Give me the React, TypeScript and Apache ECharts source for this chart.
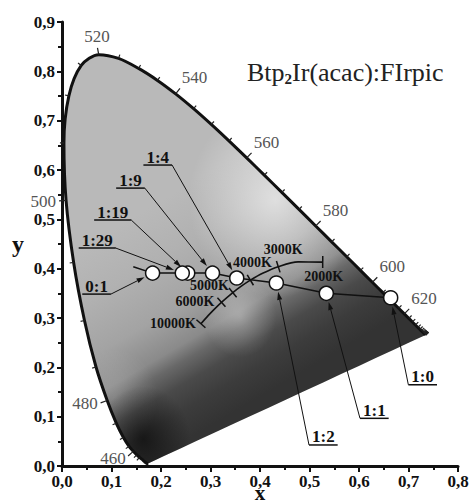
import React, { useEffect, useRef } from "react";
import * as echarts from "echarts";

// CIE 1931 spectral locus (5 nm steps)
const locusNm = [380, 385, 390, 395, 400, 405, 410, 415, 420, 425, 430, 435, 440, 445, 450, 455, 460, 465, 470, 475, 480, 485, 490, 495, 500, 505, 510, 515, 520, 525, 530, 535, 540, 545, 550, 555, 560, 565, 570, 575, 580, 585, 590, 595, 600, 605, 610, 615, 620, 625, 630, 635, 640, 645, 650, 655, 660, 665, 670, 675, 680, 685, 690, 695, 700];
const locusX = [0.1741, 0.174, 0.1738, 0.1736, 0.1733, 0.173, 0.1726, 0.1721, 0.1714, 0.1703, 0.1689, 0.1669, 0.1644, 0.1611, 0.1566, 0.151, 0.144, 0.1355, 0.1241, 0.1096, 0.0913, 0.0687, 0.0454, 0.0235, 0.0082, 0.0039, 0.0139, 0.0389, 0.0743, 0.1142, 0.1547, 0.1929, 0.2296, 0.2658, 0.3016, 0.3373, 0.3731, 0.4087, 0.4441, 0.4788, 0.5125, 0.5448, 0.5752, 0.6029, 0.627, 0.6482, 0.6658, 0.6801, 0.6915, 0.7006, 0.7079, 0.714, 0.719, 0.723, 0.726, 0.7283, 0.73, 0.7311, 0.732, 0.7327, 0.7334, 0.734, 0.7344, 0.7346, 0.7347];
const locusY = [0.005, 0.005, 0.0049, 0.0049, 0.0048, 0.0048, 0.0048, 0.0048, 0.0051, 0.0058, 0.0069, 0.0086, 0.0109, 0.0138, 0.0177, 0.0227, 0.0297, 0.0399, 0.0578, 0.0868, 0.1327, 0.2007, 0.295, 0.4127, 0.5384, 0.6548, 0.7502, 0.812, 0.8338, 0.8262, 0.8059, 0.7816, 0.7543, 0.7243, 0.6923, 0.6589, 0.6245, 0.5896, 0.5547, 0.5202, 0.4866, 0.4544, 0.4242, 0.3965, 0.3725, 0.3514, 0.334, 0.3197, 0.3083, 0.2993, 0.292, 0.2859, 0.2809, 0.277, 0.274, 0.2717, 0.27, 0.2689, 0.268, 0.2673, 0.2666, 0.266, 0.2656, 0.2654, 0.2653];
const tickFromNm = 450;
const labeledNm = [460, 480, 500, 520, 540, 560, 580, 600, 620];

// Planckian locus
const planckT = [2000, 2500, 3000, 3500, 4000, 4500, 5000, 6000, 7000, 8000, 10000];
const planckX = [0.5267, 0.477, 0.4369, 0.4053, 0.3805, 0.3608, 0.3451, 0.3221, 0.3064, 0.2952, 0.2807];
const planckY = [0.4133, 0.4137, 0.4041, 0.3907, 0.3768, 0.3636, 0.3516, 0.3318, 0.3166, 0.3048, 0.2884];
const labeledT = [10000, 6000, 5000, 4000, 3000, 2000];

// Device emission points (ratio labels)
const ratioNames = ["0:1", "1:29", "1:19", "1:9", "1:4", "1:2", "1:1", "1:0"];
const ratioX = [0.183, 0.243, 0.254, 0.304, 0.353, 0.433, 0.534, 0.664];
const ratioY = [0.391, 0.391, 0.391, 0.391, 0.381, 0.371, 0.35, 0.341];
const trendStart = [0.144, 0.404];

const xTicks = [0, 0.1, 0.2, 0.3, 0.4, 0.5, 0.6, 0.7, 0.8];
const yTicks = [0, 0.1, 0.2, 0.3, 0.4, 0.5, 0.6, 0.7, 0.8, 0.9];

// layout (pixel offsets)
const tempLayout: Record<number, [number, number, string]> = {
  10000: [-5, 0, "right"],
  6000: [-7, -1, "right"],
  5000: [-4, -7, "right"],
  4000: [2, -18, "center"],
  3000: [5, -17, "center"],
  2000: [1, 14, "center"],
};
const annLayout: [number, number][] = [
  [-56, 13],
  [-85, -33],
  [-75, -61],
  [-82, -93],
  [-79, -121],
  [47, 154],
  [48, 117],
  [32, 79],
];

const FONT = '"Liberation Serif", "Times New Roman", serif';

function measure(text: string, font: string) {
  const ctx = document.createElement("canvas").getContext("2d");
  if (!ctx) return text.length * 8;
  ctx.font = font;
  return ctx.measureText(text).width;
}

export default function App() {
  const ref = useRef<HTMLDivElement>(null);
  useEffect(() => {
    document.body.style.margin = "0";
    const chart = echarts.init(ref.current!, null, { renderer: "svg" });
    const fmt = (v: number) => v.toFixed(1).replace(".", ",");

    const baseFill = new echarts.graphic.LinearGradient(-0.023, 0.509, 0.231, 0.998, [
      { offset: 0, color: "#b9b9b9" },
      { offset: 0.227, color: "#b1b1b1" },
      { offset: 0.455, color: "#a3a3a3" },
      { offset: 0.614, color: "#8a8a8a" },
      { offset: 0.682, color: "#686868" },
      { offset: 0.773, color: "#4a4a4a" },
      { offset: 0.877, color: "#3c3c3c" },
      { offset: 1, color: "#333333" },
    ]);
    const light1 = new echarts.graphic.RadialGradient(0.585, 0.355, 0.24, [
      { offset: 0, color: "rgba(255,255,255,0.6)" },
      { offset: 1, color: "rgba(255,255,255,0)" },
    ]);
    const light2 = new echarts.graphic.RadialGradient(0.487, 0.64, 0.1, [
      { offset: 0, color: "rgba(255,255,255,0.3)" },
      { offset: 1, color: "rgba(255,255,255,0)" },
    ]);
    const light3 = new echarts.graphic.RadialGradient(0.14, 0.84, 0.12, [
      { offset: 0, color: "rgba(255,255,255,0.15)" },
      { offset: 1, color: "rgba(255,255,255,0)" },
    ]);
    const darkFill = new echarts.graphic.RadialGradient(0.22, 0.94, 0.13, [
      { offset: 0, color: "rgba(0,0,0,0.6)" },
      { offset: 1, color: "rgba(0,0,0,0)" },
    ]);

    const locusData = locusX.map((x, i) => [x, locusY[i]]);
    const planckData = planckX.map((x, i) => [x, planckY[i]]);
    const ratioData = ratioX.map((x, i) => [x, ratioY[i], i]);
    const trendData = [trendStart, ...ratioX.map((x, i) => [x, ratioY[i]])];

    const annFont = `bold 17px ${FONT}`;

    const option: any = {
      animation: false,
      backgroundColor: "#fff",
      title: {
        text: "{a|Btp}{s|2}{a|Ir(acac):FIrpic}",
        left: 242,
        top: 54,
        textStyle: {
          rich: {
            a: { fontFamily: FONT, fontSize: 26, color: "#222", fontWeight: "normal" },
            s: { fontFamily: FONT, fontSize: 15, color: "#222", padding: [12, 0, 0, 0] },
          },
        },
      },
      grid: { left: 62, top: 22, right: 15, bottom: 38, outerBoundsMode: "none", containLabel: false },
      xAxis: {
        type: "value",
        min: xTicks[0],
        max: xTicks[xTicks.length - 1],
        interval: 0.1,
        name: "x",
        nameLocation: "middle",
        nameGap: 27,
        nameMoveOverlap: false,
        nameTextStyle: { fontFamily: FONT, fontWeight: "bold", fontSize: 21, color: "#111", verticalAlign: "middle" },
        axisLine: { show: true, onZero: false, lineStyle: { color: "#111", width: 3 } },
        axisTick: { show: true, length: 6, lineStyle: { color: "#111", width: 2 } },
        minorTick: { show: true, splitNumber: 2, length: 4, lineStyle: { color: "#111", width: 2 } },
        splitLine: { show: false },
        minorSplitLine: { show: false },
        axisLabel: { formatter: fmt, fontFamily: FONT, fontWeight: "bold", fontSize: 17, color: "#111", margin: 7 },
      },
      yAxis: {
        type: "value",
        min: yTicks[0],
        max: yTicks[yTicks.length - 1],
        interval: 0.1,
        name: "y",
        nameLocation: "middle",
        nameRotate: 0,
        nameGap: 38,
        nameMoveOverlap: false,
        nameTextStyle: { fontFamily: FONT, fontWeight: "bold", fontSize: 24, color: "#111" },
        axisLine: { show: true, onZero: false, lineStyle: { color: "#111", width: 3 } },
        axisTick: { show: true, length: 5, lineStyle: { color: "#111", width: 2 } },
        minorTick: { show: true, splitNumber: 2, length: 4, lineStyle: { color: "#111", width: 2 } },
        splitLine: { show: false },
        minorSplitLine: { show: false },
        axisLabel: { formatter: fmt, fontFamily: FONT, fontWeight: "bold", fontSize: 17, color: "#111", margin: 7 },
      },
      series: [
        {
          type: "custom",
          name: "fill",
          data: [[0.3, 0.4]],
          silent: true,
          clip: false,
          z: 1,
          renderItem: (_p: any, api: any) => {
            const pts = locusData.map((d) => api.coord(d));
            return {
              type: "group",
              children: [baseFill, light1, light2, light3, darkFill].map((f) => ({
                type: "polygon",
                shape: { points: pts, smooth: 0.3 },
                style: { fill: f, stroke: "none" },
              })),
            };
          },
        },
        {
          type: "line",
          name: "locus",
          data: locusData,
          showSymbol: false,
          smooth: 0.3,
          silent: true,
          z: 3,
          lineStyle: { color: "#111", width: 3 },
        },
        {
          type: "custom",
          name: "nm ticks",
          data: [[0.3, 0.4]],
          silent: true,
          clip: false,
          z: 4,
          renderItem: (_p: any, api: any) => {
            const pts = locusData.map((d) => api.coord(d));
            const c = api.coord([0.3, 0.35]);
            const children: any[] = [];
            for (let i = 0; i < pts.length; i++) {
              const nm = locusNm[i];
              if (nm < tickFromNm) continue;
              const a = pts[Math.max(0, i - 1)];
              const b = pts[Math.min(pts.length - 1, i + 1)];
              let tx = b[0] - a[0];
              let ty = b[1] - a[1];
              const tl = Math.hypot(tx, ty) || 1;
              tx /= tl;
              ty /= tl;
              let nx = -ty;
              let ny = tx;
              if (nx * (pts[i][0] - c[0]) + ny * (pts[i][1] - c[1]) < 0) {
                nx = -nx;
                ny = -ny;
              }
              const major = labeledNm.indexOf(nm) >= 0;
              const L = major ? 7 : 4;
              children.push({
                type: "line",
                shape: { x1: pts[i][0], y1: pts[i][1], x2: pts[i][0] + nx * L, y2: pts[i][1] + ny * L },
                style: { stroke: "#222", lineWidth: 1.2 },
              });
              if (major) {
                const off = L + 3;
                const align = nx > 0.3 ? "left" : nx < -0.3 ? "right" : "center";
                const valign = ny < -0.3 ? "bottom" : "middle";
                children.push({
                  type: "text",
                  x: pts[i][0] + nx * off,
                  y: pts[i][1] + ny * off,
                  style: {
                    text: String(nm),
                    fill: "#555",
                    font: `17px ${FONT}`,
                    align,
                    verticalAlign: valign,
                  },
                });
              }
            }
            return { type: "group", children };
          },
        },
        {
          type: "line",
          name: "planck",
          data: planckData,
          showSymbol: false,
          smooth: 0.3,
          silent: true,
          z: 5,
          lineStyle: { color: "#111", width: 1.6 },
        },
        {
          type: "custom",
          name: "planck ticks",
          data: [[0.4, 0.4]],
          silent: true,
          clip: false,
          z: 6,
          renderItem: (_p: any, api: any) => {
            const pts = planckData.map((d) => api.coord(d));
            const children: any[] = [];
            labeledT.forEach((t) => {
              const i = planckT.indexOf(t);
              const a = pts[Math.max(0, i - 1)];
              const b = pts[Math.min(pts.length - 1, i + 1)];
              let tx = b[0] - a[0];
              let ty = b[1] - a[1];
              const tl = Math.hypot(tx, ty) || 1;
              tx /= tl;
              ty /= tl;
              const nx = -ty;
              const ny = tx;
              const p = pts[i];
              children.push({
                type: "line",
                shape: { x1: p[0] - nx * 6, y1: p[1] - ny * 6, x2: p[0] + nx * 6, y2: p[1] + ny * 6 },
                style: { stroke: "#111", lineWidth: 1.5 },
              });
              const lay = tempLayout[t];
              children.push({
                type: "text",
                x: p[0] + lay[0],
                y: p[1] + lay[1],
                style: {
                  text: `${t}K`,
                  fill: "#111",
                  font: `bold 14px ${FONT}`,
                  align: lay[2],
                  verticalAlign: "middle",
                },
              });
            });
            return { type: "group", children };
          },
        },
        {
          type: "line",
          name: "trend",
          data: trendData,
          showSymbol: false,
          silent: true,
          z: 7,
          lineStyle: { color: "#111", width: 1.5 },
        },
        {
          type: "scatter",
          name: "points",
          data: ratioData.slice().reverse(),
          symbol: "circle",
          symbolSize: 14,
          silent: true,
          z: 8,
          itemStyle: { color: "#fff", borderColor: "#111", borderWidth: 1.5, opacity: 1 },
        },
        {
          type: "custom",
          name: "annotations",
          data: ratioData,
          silent: true,
          clip: false,
          z: 9,
          renderItem: (_p: any, api: any) => {
            const idx = api.value(2);
            const p = api.coord([api.value(0), api.value(1)]);
            const lay = annLayout[idx];
            const text = ratioNames[idx];
            const w = measure(text, annFont);
            const cx = p[0] + lay[0];
            const cy = p[1] + lay[1];
            const uy = cy + 8;
            const ul = cx - w / 2 - 3;
            const ur = cx + w / 2 + 3;
            const sx = lay[0] < 0 ? ur : ul;
            let dx = sx - p[0];
            let dy = uy - p[1];
            const dl = Math.hypot(dx, dy);
            dx /= dl;
            dy /= dl;
            const tip = [p[0] + dx * 9, p[1] + dy * 9];
            const base = [tip[0] + dx * 8, tip[1] + dy * 8];
            const px = -dy;
            const py = dx;
            return {
              type: "group",
              children: [
                {
                  type: "text",
                  x: cx,
                  y: cy,
                  style: { text, fill: "#111", font: annFont, align: "center", verticalAlign: "middle" },
                },
                { type: "line", shape: { x1: ul, y1: uy, x2: ur, y2: uy }, style: { stroke: "#111", lineWidth: 1.5 } },
                { type: "line", shape: { x1: sx, y1: uy, x2: base[0], y2: base[1] }, style: { stroke: "#111", lineWidth: 1 } },
                {
                  type: "polygon",
                  shape: {
                    points: [
                      tip,
                      [base[0] + px * 2.5, base[1] + py * 2.5],
                      [base[0] - px * 2.5, base[1] - py * 2.5],
                    ],
                  },
                  style: { fill: "#111" },
                },
              ],
            };
          },
        },
      ],
    };
    chart.setOption(option);
    return () => chart.dispose();
  }, []);
  return <div ref={ref} style={{ width: 473, height: 504 }} />;
}
